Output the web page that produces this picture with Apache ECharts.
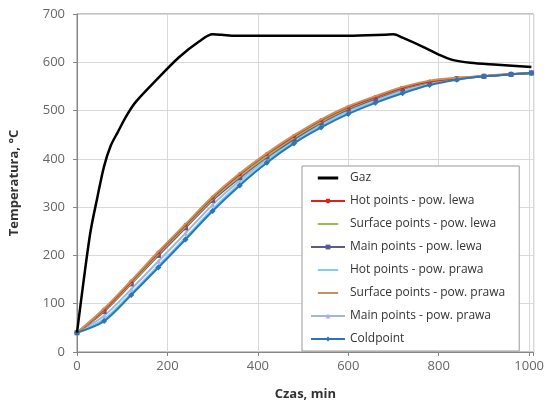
<!DOCTYPE html>
<html><head><meta charset="utf-8">
<script src="https://cdn.jsdelivr.net/npm/echarts@6/dist/echarts.min.js"></script>
<style>html,body{margin:0;padding:0;background:#fff}#c{width:547px;height:414px}</style>
</head><body><div id="c"></div>
<script>
var gasTimes = [0,15,30,45,60,75,90,110,130,175,225,270,300,320,350,400,500,600,680,700,720,770,800,830,870,930,1005];
var gasTemp  = [40,150,250,320,385,428,455,490,518,563,610,643,658,657,655,655,655,655,657,658,651,630,616,605,599,595,590];
var times = [0,60,120,180,240,300,360,420,480,540,600,660,720,780,840,900,960,1005];
var hotLewa     = [40,88,146,206,263,320,368,410,447,480,507,528,547,560,567,571,575,578];
var surfLewa    = [40,86,143,203,260,317,364,406,444,477,505,527,546,559,566,571,575,578];
var mainLewa    = [40,84,141,200,257,314,361,404,441,475,503,525,545,558,566,571,575,578];
var hotPrawa    = [40,68,122,179,237,296,349,395,435,468,496,519,539,555,565,571,575,578];
var surfPrawa   = [40,90,148,208,265,322,370,412,449,482,509,530,549,562,568,572,576,578];
var mainPrawa   = [40,75,130,188,246,305,355,400,438,472,500,522,542,557,565,571,575,578];
var coldPoint   = [40,64,118,175,233,292,345,392,432,465,493,516,536,553,564,571,575,578];
var names = ['Gaz','Hot points - pow. lewa','Surface points - pow. lewa','Main points - pow. lewa','Hot points - pow. prawa','Surface points - pow. prawa','Main points - pow. prawa','Coldpoint'];

function pairs(xs, ys){ return xs.map(function(x,i){ return [x, ys[i]]; }); }

var chart = echarts.init(document.getElementById('c'));
function ser(name, xs, ys, color, width, symbol, size, z){
  return {name:name, type:'line', data:pairs(xs,ys), smooth:0.3, z:z,
    lineStyle:{color:color, width:width}, itemStyle:{color:color},
    symbol:symbol, symbolSize:size, showSymbol: symbol!=='none', animation:false};
}
// legend icons drawn as a plain bar (for series without markers)
var thickIcon = 'path://M0,0L0.01,0L0,0.01Z M0,2.5L34,2.5L34,7.5L0,7.5Z M34,10L33.99,10L34,9.99Z';
var thinIcon  = 'path://M0,0L0.01,0L0,0.01Z M0,3.4L34,3.4L34,6.6L0,6.6Z M34,10L33.99,10L34,9.99Z';
var legendData = names.map(function(n, i){
  if (i === 0) return {name:n, icon:thickIcon};
  var marked = (i===1 || i===3 || i===6 || i===7);
  return marked ? {name:n} : {name:n, icon:thinIcon};
});
chart.setOption({
  animation:false,
  grid:{left:77, top:14, right:13, bottom:62, show:true, borderColor:'#868686', borderWidth:1},
  legend:{orient:'vertical', left:302, top:166, padding:[6,14,6,8], itemGap:11,
    itemWidth:34, itemHeight:6, backgroundColor:'#fff', borderColor:'#9a9a9a', borderWidth:1,
    textStyle:{fontFamily:'Open Sans', fontSize:12, color:'#333'}, data:legendData},
  xAxis:{type:'value', min:0, max:1010, interval:200,
    name:'Czas, min', nameLocation:'middle', nameGap:36,
    nameTextStyle:{fontFamily:'Open Sans', fontWeight:'bold', fontSize:13, color:'#333'},
    axisLine:{show:true, lineStyle:{color:'#868686'}},
    axisTick:{show:true, length:4, lineStyle:{color:'#868686'}},
    axisLabel:{fontFamily:'Open Sans', fontSize:13, color:'#666', margin:8,
      formatter:function(v){ return v%200===0 ? String(v) : ''; }},
    splitLine:{show:true, lineStyle:{color:'#d9d9d9'}}},
  yAxis:{type:'value', min:0, max:700, interval:100,
    name:'Temperatura, °C', nameLocation:'middle', nameGap:56,
    nameTextStyle:{fontFamily:'Open Sans', fontWeight:'bold', fontSize:13, color:'#333'},
    axisLine:{show:true, lineStyle:{color:'#868686'}},
    axisTick:{show:true, length:4, lineStyle:{color:'#868686'}},
    axisLabel:{fontFamily:'Open Sans', fontSize:13, color:'#666', margin:12},
    splitLine:{show:true, lineStyle:{color:'#d9d9d9'}}},
  series:[
    ser(names[0], gasTimes, gasTemp, '#000000', 2.5, 'none', 0, 10),
    ser(names[1], times, hotLewa, '#e0201c', 2, 'circle', 4, 5),
    ser(names[2], times, surfLewa, '#9bbb59', 2, 'none', 0, 4),
    ser(names[3], times, mainLewa, '#5a5a8c', 2, 'rect', 5, 3),
    ser(names[4], times, hotPrawa, '#7fd0e8', 2, 'none', 0, 3),
    ser(names[5], times, surfPrawa, '#c8915a', 2, 'none', 0, 6),
    ser(names[6], times, mainPrawa, '#a4b6de', 2, 'triangle', 5, 2),
    ser(names[7], times, coldPoint, '#2e75b6', 2, 'diamond', 6, 7)
  ]
});
</script></body></html>
